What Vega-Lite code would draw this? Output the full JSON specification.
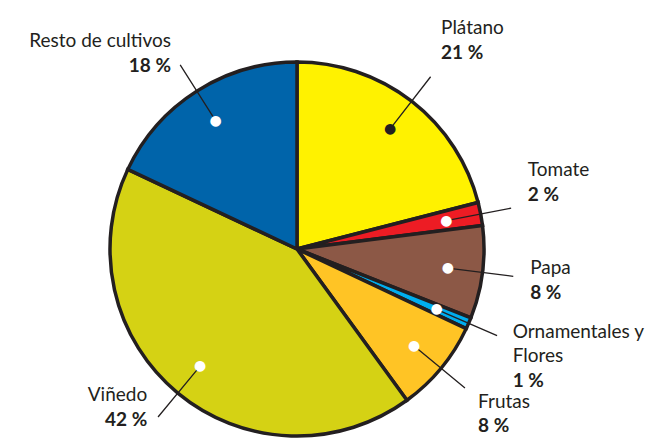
{
  "$schema": "https://vega.github.io/schema/vega-lite/v6.json",
  "width": 594,
  "height": 378,
  "autosize": {"type": "none"},
  "padding": {"left": 0, "top": 60, "right": 54, "bottom": 0},
  "background": "white",
  "config": {"view": {"stroke": null}, "text": {"font": "Lato", "fontSize": 19, "color": "#231F20", "radius": 235}},
  "data": {
    "values": [
      {"name": "Plátano", "value": 21, "pct": "21 %", "order": 1},
      {"name": "Tomate", "value": 2, "pct": "2 %", "order": 2},
      {"name": "Papa", "value": 8, "pct": "8 %", "order": 3},
      {"name": "Ornamentales y\nFlores", "value": 1, "pct": "1 %", "order": 4},
      {"name": "Frutas", "value": 8, "pct": "8 %", "order": 5},
      {"name": "Viñedo", "value": 42, "pct": "42 %", "order": 6},
      {"name": "Resto de cultivos", "value": 18, "pct": "18 %", "order": 7}
    ]
  },
  "transform": [
    {"stack": "value", "groupby": [], "sort": [{"field": "order", "order": "ascending"}], "as": ["v0", "v1"]},
    {"fold": ["v0", "v1"], "as": ["edge", "pos"]},
    {"aggregate": [
      {"op": "min", "field": "pos", "as": "a0"},
      {"op": "max", "field": "pos", "as": "a1"},
      {"op": "mean", "field": "pos", "as": "mid"}
    ], "groupby": ["name", "value", "pct", "order"]}
  ],
  "encoding": {
    "theta": {"field": "mid", "type": "quantitative", "scale": {"domain": [0, 100]}}
  },
  "layer": [
    {
      "mark": {"type": "arc", "outerRadius": 187, "stroke": "#231F20", "strokeWidth": 3.5},
      "encoding": {
        "theta": {"field": "a0", "type": "quantitative", "scale": {"domain": [0, 100]}},
        "theta2": {"field": "a1"},
        "color": {
          "field": "name", "type": "nominal", "legend": null,
          "scale": {
            "domain": ["Plátano", "Tomate", "Papa", "Ornamentales y\nFlores", "Frutas", "Viñedo", "Resto de cultivos"],
            "range": ["#FFF200", "#ED1C24", "#8C5846", "#00AEEF", "#FFC425", "#D5D214", "#0064AA"]
          }
        }
      }
    },
    {
      "mark": {"type": "arc", "innerRadius": 152, "outerRadius": 218, "stroke": "#231F20", "strokeWidth": 1.3, "fill": "white", "fillOpacity": 0},
      "encoding": {
        "theta2": {"field": "mid"}
      }
    },
    {
      "mark": {"type": "text", "text": "●", "radius": 152, "fontSize": 14, "font": "DejaVu Sans", "align": "center", "baseline": "middle"},
      "encoding": {
        "color": {"condition": {"test": "datum.name === 'Plátano'", "value": "#231F20"}, "value": "white"}
      }
    },
    {
      "transform": [{"filter": "datum.mid < 25"}],
      "mark": {"type": "text", "align": "left", "baseline": "alphabetic", "dy": -29},
      "encoding": {"text": {"field": "name"}}
    },
    {
      "transform": [{"filter": "datum.mid < 25"}],
      "mark": {"type": "text", "align": "left", "baseline": "alphabetic", "dy": -4, "fontWeight": "bold"},
      "encoding": {"text": {"field": "pct"}}
    },
    {
      "transform": [{"filter": "datum.mid >= 25 && datum.mid < 35"}],
      "mark": {"type": "text", "align": "left", "baseline": "alphabetic", "dy": -4, "lineBreak": "\n", "lineHeight": 24},
      "encoding": {"text": {"field": "name"}}
    },
    {
      "transform": [{"filter": "datum.mid >= 25 && datum.mid < 35 && indexof(datum.name, '\\n') < 0"}],
      "mark": {"type": "text", "align": "left", "baseline": "alphabetic", "dy": 21, "fontWeight": "bold"},
      "encoding": {"text": {"field": "pct"}}
    },
    {
      "transform": [{"filter": "datum.mid >= 25 && datum.mid < 35 && indexof(datum.name, '\\n') >= 0"}],
      "mark": {"type": "text", "align": "left", "baseline": "alphabetic", "dy": 45, "fontWeight": "bold"},
      "encoding": {"text": {"field": "pct"}}
    },
    {
      "transform": [{"filter": "datum.mid >= 35 && datum.mid < 50"}],
      "mark": {"type": "text", "align": "left", "baseline": "alphabetic", "dy": 9},
      "encoding": {"text": {"field": "name"}}
    },
    {
      "transform": [{"filter": "datum.mid >= 35 && datum.mid < 50"}],
      "mark": {"type": "text", "align": "left", "baseline": "alphabetic", "dy": 33, "fontWeight": "bold"},
      "encoding": {"text": {"field": "pct"}}
    },
    {
      "transform": [{"filter": "datum.mid >= 75"}],
      "mark": {"type": "text", "align": "right", "baseline": "alphabetic", "dy": -4},
      "encoding": {"text": {"field": "name"}}
    },
    {
      "transform": [{"filter": "datum.mid >= 75"}],
      "mark": {"type": "text", "align": "right", "baseline": "alphabetic", "dy": 21, "fontWeight": "bold"},
      "encoding": {"text": {"field": "pct"}}
    },
    {
      "transform": [{"filter": "datum.mid >= 50 && datum.mid < 75"}],
      "mark": {"type": "text", "align": "right", "baseline": "alphabetic", "dy": -29},
      "encoding": {"text": {"field": "name"}}
    },
    {
      "transform": [{"filter": "datum.mid >= 50 && datum.mid < 75"}],
      "mark": {"type": "text", "align": "right", "baseline": "alphabetic", "dy": -4, "fontWeight": "bold"},
      "encoding": {"text": {"field": "pct"}}
    }
  ]
}
